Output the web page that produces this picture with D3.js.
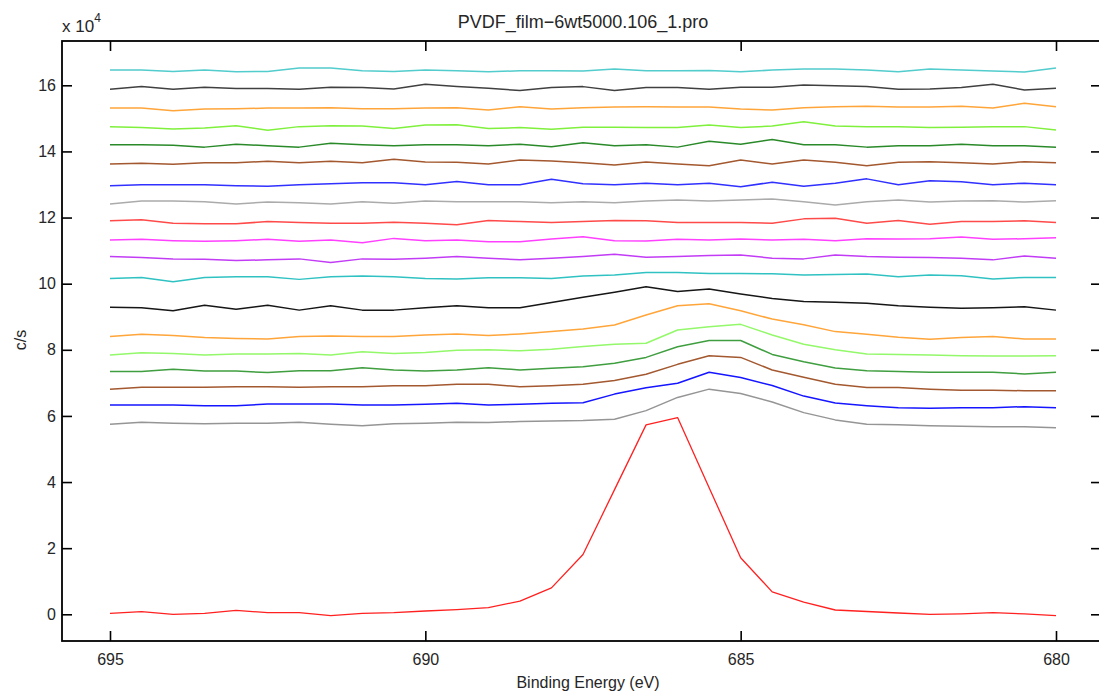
<!DOCTYPE html>
<html>
<head>
<meta charset="utf-8">
<script src="https://cdn.jsdelivr.net/npm/d3@7"></script>
<style>
  body { margin: 0; background: #fff; }
  svg { display: block; font-family: "Liberation Sans", Arial, sans-serif; }
  .axis path, .axis line { stroke: #000; }
  .axis text { fill: #262626; font-size: 16px; }
</style>
</head>
<body>
<svg width="1099" height="694"></svg>
<script>
// binding energy (eV), one point every 0.5 eV
const energy = [695, 694.5, 694, 693.5, 693, 692.5, 692, 691.5, 691, 690.5, 690,
    689.5, 689, 688.5, 688, 687.5, 687, 686.5, 686, 685.5, 685,
    684.5, 684, 683.5, 683, 682.5, 682, 681.5, 681, 680.5, 680];

// counts, in units of 10^4 c/s, top trace first
const s01 = [16.46,16.46,16.42,16.46,16.41,16.42,16.52,16.52,16.44,16.42,16.46,16.44,16.41,16.44,16.44,16.43,16.49,16.44,16.44,16.45,16.41,16.46,16.49,16.49,16.46,16.41,16.49,16.46,16.43,16.40,16.52];
const s02 = [15.88,15.96,15.88,15.94,15.90,15.90,15.88,15.94,15.93,15.89,16.03,15.96,15.91,15.84,15.93,15.96,15.84,15.93,15.93,15.88,15.94,15.94,16.01,15.99,15.96,15.88,15.89,15.93,16.03,15.86,15.91];
const s03 = [15.31,15.31,15.23,15.28,15.29,15.31,15.31,15.32,15.29,15.29,15.31,15.32,15.25,15.35,15.28,15.32,15.34,15.35,15.34,15.34,15.28,15.25,15.32,15.35,15.37,15.34,15.34,15.37,15.31,15.46,15.35];
const s04 = [14.75,14.72,14.68,14.71,14.78,14.64,14.75,14.78,14.77,14.69,14.80,14.81,14.69,14.72,14.67,14.73,14.73,14.72,14.72,14.80,14.72,14.77,14.90,14.77,14.75,14.75,14.72,14.73,14.75,14.75,14.65];
const s05 = [14.20,14.20,14.19,14.13,14.22,14.17,14.13,14.25,14.20,14.17,14.20,14.20,14.17,14.22,14.14,14.26,14.17,14.20,14.13,14.31,14.22,14.36,14.20,14.20,14.13,14.17,14.17,14.22,14.17,14.17,14.13];
const s06 = [13.62,13.64,13.61,13.66,13.66,13.70,13.66,13.70,13.66,13.76,13.68,13.67,13.62,13.74,13.71,13.66,13.59,13.68,13.62,13.57,13.74,13.62,13.74,13.67,13.57,13.67,13.69,13.66,13.62,13.69,13.66];
const s07 = [12.96,12.99,12.99,12.99,12.96,12.95,12.99,13.02,13.05,13.05,12.99,13.09,12.99,12.99,13.16,13.02,12.99,13.04,12.99,13.04,12.93,13.07,12.95,13.04,13.17,12.99,13.11,13.08,12.99,13.04,12.99];
const s08 = [12.41,12.50,12.50,12.48,12.41,12.47,12.45,12.41,12.48,12.43,12.50,12.48,12.48,12.48,12.45,12.48,12.45,12.50,12.53,12.50,12.53,12.56,12.48,12.38,12.48,12.53,12.47,12.50,12.51,12.47,12.51];
const s09 = [11.90,11.93,11.83,11.81,11.81,11.88,11.85,11.83,11.83,11.86,11.83,11.78,11.91,11.88,11.85,11.88,11.91,11.90,11.85,11.85,11.85,11.83,11.96,11.98,11.83,11.91,11.80,11.88,11.88,11.90,11.85];
const s10 = [11.32,11.34,11.30,11.28,11.30,11.34,11.28,11.32,11.24,11.37,11.30,11.32,11.27,11.27,11.35,11.42,11.30,11.29,11.34,11.32,11.35,11.32,11.34,11.30,11.36,11.35,11.36,11.41,11.34,11.36,11.39];
const s11 = [10.82,10.79,10.75,10.74,10.70,10.72,10.75,10.64,10.75,10.74,10.77,10.82,10.77,10.72,10.77,10.82,10.89,10.80,10.82,10.85,10.87,10.77,10.75,10.87,10.82,10.80,10.79,10.77,10.72,10.84,10.77];
const s12 = [10.16,10.19,10.06,10.19,10.21,10.21,10.13,10.21,10.23,10.21,10.16,10.14,10.18,10.18,10.16,10.23,10.26,10.34,10.34,10.31,10.31,10.30,10.26,10.28,10.29,10.21,10.26,10.24,10.14,10.19,10.19];
const s13 = [9.29,9.27,9.18,9.35,9.23,9.35,9.20,9.33,9.20,9.20,9.27,9.33,9.27,9.27,9.43,9.59,9.74,9.91,9.76,9.84,9.69,9.55,9.46,9.44,9.41,9.33,9.29,9.26,9.27,9.30,9.20];
const s14 = [8.40,8.47,8.43,8.37,8.34,8.33,8.40,8.42,8.40,8.40,8.45,8.48,8.43,8.48,8.55,8.63,8.75,9.05,9.33,9.39,9.18,8.93,8.76,8.55,8.47,8.38,8.32,8.37,8.40,8.33,8.33];
const s15 = [7.84,7.91,7.89,7.84,7.87,7.87,7.89,7.84,7.94,7.89,7.92,7.99,8.00,7.97,8.02,8.10,8.17,8.20,8.60,8.70,8.77,8.45,8.17,8.00,7.87,7.86,7.84,7.82,7.81,7.81,7.82];
const s16 = [7.34,7.34,7.41,7.36,7.36,7.31,7.37,7.37,7.46,7.39,7.36,7.39,7.46,7.39,7.44,7.49,7.59,7.77,8.09,8.28,8.28,7.86,7.64,7.45,7.37,7.34,7.32,7.32,7.32,7.27,7.32];
const s17 = [6.81,6.87,6.87,6.87,6.88,6.88,6.87,6.88,6.88,6.91,6.91,6.96,6.96,6.88,6.91,6.96,7.07,7.26,7.56,7.82,7.77,7.39,7.17,6.96,6.86,6.86,6.81,6.78,6.78,6.76,6.76];
const s18 = [6.33,6.33,6.33,6.31,6.31,6.36,6.36,6.36,6.33,6.33,6.35,6.38,6.33,6.35,6.38,6.40,6.66,6.85,6.99,7.32,7.16,6.92,6.60,6.39,6.31,6.25,6.23,6.25,6.25,6.28,6.25];
const s19 = [5.75,5.81,5.78,5.76,5.78,5.78,5.81,5.75,5.70,5.76,5.78,5.81,5.80,5.83,5.85,5.86,5.90,6.16,6.56,6.81,6.68,6.42,6.10,5.88,5.75,5.73,5.70,5.69,5.67,5.67,5.64];
const s20 = [0.03,0.08,0.00,0.03,0.12,0.05,0.05,-0.04,0.03,0.05,0.10,0.14,0.20,0.40,0.80,1.81,3.77,5.73,5.95,3.83,1.71,0.68,0.37,0.13,0.085,0.04,0.00,0.015,0.05,0.01,-0.04];

const traces = [s01, s02, s03, s04, s05, s06, s07, s08, s09, s10,
                s11, s12, s13, s14, s15, s16, s17, s18, s19, s20];

const xTicks = [695, 690, 685, 680];
const yTicks = [0, 2, 4, 6, 8, 10, 12, 14, 16];

const colors = ["#52cccc", "#404040", "#ffa53a", "#7ff03c", "#2a8a2a",
                "#a3582f", "#3030ff", "#ababab", "#ff4a4a", "#ff40ff",
                "#c23cf5", "#30c2c2", "#161616", "#ffa53a", "#93f86a",
                "#3f9e3f", "#a3582f", "#1515ff", "#959595", "#ff2020"];

const svg = d3.select("svg");
const boxL = 62, boxR = 1101, boxT = 41, boxB = 641;

const x = d3.scaleLinear().domain([695, 680]).range([110, 1056]);
const y = d3.scaleLinear().domain([0, 16]).range([614.3, 85.3]);

// traces, clipped to the axes box
svg.append("clipPath").attr("id", "box")
    .append("rect")
    .attr("x", boxL).attr("y", boxT)
    .attr("width", boxR - boxL).attr("height", boxB - boxT);

const line = d3.line()
    .x((d, i) => x(energy[i]))
    .y(d => y(d));

svg.append("g")
    .attr("clip-path", "url(#box)")
    .selectAll("path")
    .data(traces)
    .join("path")
    .attr("fill", "none")
    .attr("stroke", (d, i) => colors[i])
    .attr("stroke-width", (d, i) => i === traces.length - 1 ? 1.3 : 1.5)
    .attr("stroke-linejoin", "round")
    .attr("d", line);

// axes, ticks pointing inward like matlab
svg.append("g")
    .attr("class", "axis")
    .attr("transform", `translate(0,${boxB})`)
    .call(d3.axisBottom(x).tickValues(xTicks).tickSizeInner(-10).tickSizeOuter(0).tickPadding(13))
    .call(g => g.select(".domain").remove());

svg.append("g")
    .attr("class", "axis")
    .attr("transform", `translate(0,${boxT})`)
    .call(d3.axisTop(x).tickValues(xTicks).tickSizeInner(-10).tickSizeOuter(0).tickFormat(""))
    .call(g => g.select(".domain").remove());

svg.append("g")
    .attr("class", "axis")
    .attr("transform", `translate(${boxL},0)`)
    .call(d3.axisLeft(y).tickValues(yTicks).tickSizeInner(-10).tickSizeOuter(0).tickPadding(6))
    .call(g => g.select(".domain").remove());

svg.append("g")
    .attr("class", "axis")
    .attr("transform", `translate(${boxR},0)`)
    .call(d3.axisRight(y).tickValues(yTicks).tickSizeInner(-10).tickSizeOuter(0).tickFormat(""))
    .call(g => g.select(".domain").remove());

svg.selectAll(".axis line").attr("stroke-width", 1.6);

svg.append("rect")
    .attr("x", boxL).attr("y", boxT)
    .attr("width", boxR - boxL).attr("height", boxB - boxT)
    .attr("fill", "none")
    .attr("stroke", "#000")
    .attr("stroke-width", 1.8);

// labels
svg.append("text")
    .attr("x", 583).attr("y", 28)
    .attr("text-anchor", "middle")
    .attr("font-size", 18).attr("fill", "#262626")
    .text("PVDF_film\u22126wt5000.106_1.pro");

svg.append("text")
    .attr("x", 588).attr("y", 688)
    .attr("text-anchor", "middle")
    .attr("font-size", 16).attr("fill", "#262626")
    .text("Binding Energy (eV)");

svg.append("text")
    .attr("transform", "translate(26,340) rotate(-90)")
    .attr("text-anchor", "middle")
    .attr("font-size", 16).attr("fill", "#262626")
    .text("c/s");

const mult = svg.append("text")
    .attr("x", 62).attr("y", 32)
    .attr("font-size", 17).attr("fill", "#262626");
mult.append("tspan").text("x 10");
mult.append("tspan").attr("dy", -10).attr("font-size", 12).text("4");
</script>
</body>
</html>
